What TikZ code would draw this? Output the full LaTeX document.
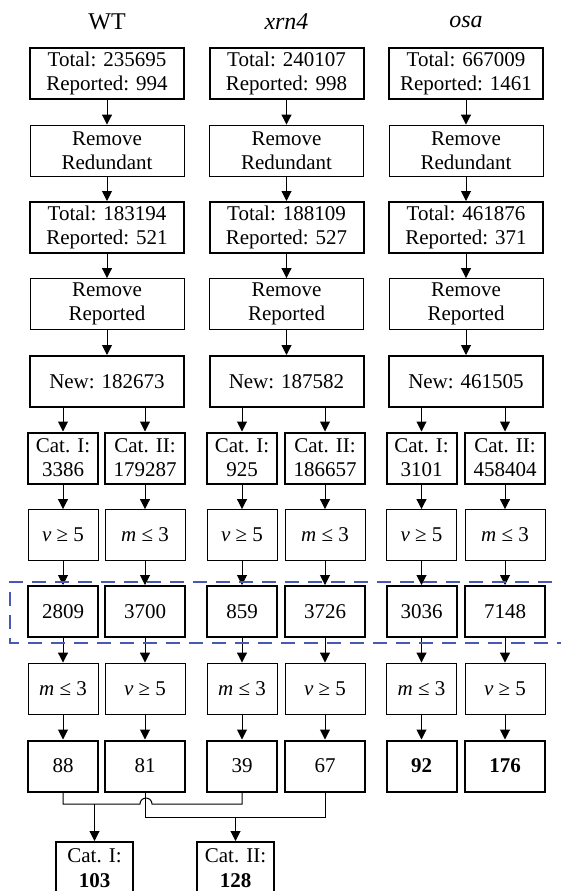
\documentclass[tikz,border=0pt]{standalone}
\usepackage{fontspec}
\setmainfont{Liberation Serif}
\usetikzlibrary{arrows.meta}
\definecolor{dashblue}{RGB}{70,90,180}
\begin{document}
\begin{tikzpicture}[x=1pt,y=1pt,
  basebox/.style={draw, minimum height=51pt, inner sep=0pt, align=center,
    font=\fontsize{21}{24}\selectfont},
  thinbox/.style={basebox, line width=0.9pt},
  thickbox/.style={basebox, line width=2pt},
  wide/.style={minimum width=154pt},
  lbox/.style={minimum width=70pt},
  rbox/.style={minimum width=80pt},
  finalbox/.style={thickbox, minimum width=77pt, minimum height=52pt,
    font=\fontsize{21}{25}\selectfont},
  title/.style={font=\fontsize{24}{28}\selectfont, inner sep=0pt},
  arr/.style={-{Triangle[length=10pt,width=10pt]}, line width=1pt},
  conn/.style={line width=1pt}]
\useasboundingbox (0,0) rectangle (561,-891);

% titles
\node[title] (tA) at (107,-22) {WT};
\node[title] (tB) at (286.5,-22) {\itshape xrn4};
\node[title] (tC) at (466,-22) {\itshape osa};

% ---------- WT ----------
\node[thickbox,wide] (aA) at (107,-73.5) {Total: 235695\\Reported: 994};
\node[thinbox,wide]  (bA) at (107,-150.5) {Remove\\Redundant};
\node[thickbox,wide] (cA) at (107,-227.5) {Total: 183194\\Reported: 521};
\node[thinbox,wide]  (dA) at (107,-304) {Remove\\Reported};
\node[thickbox,wide] (eA) at (107,-381.5) {New: 182673};
\node[thickbox,lbox] (fAL) at (63,-458) {Cat. I:\\3386};
\node[thickbox,rbox] (fAR) at (145,-458) {Cat. II:\\179287};
\node[thinbox,lbox]  (gAL) at (63,-535) {{\itshape v} ≥ 5};
\node[thinbox,rbox]  (gAR) at (145,-535) {{\itshape m} ≤ 3};
\node[thickbox,lbox] (hAL) at (63,-611.5) {2809};
\node[thickbox,rbox] (hAR) at (145,-611.5) {3700};
\node[thinbox,lbox]  (iAL) at (63,-688.5) {{\itshape m} ≤ 3};
\node[thinbox,rbox]  (iAR) at (145,-688.5) {{\itshape v} ≥ 5};
\node[thickbox,lbox] (jAL) at (63,-766) {88};
\node[thickbox,rbox] (jAR) at (145,-766) {81};

% ---------- xrn4 ----------
\node[thickbox,wide] (aB) at (286.5,-73.5) {Total: 240107\\Reported: 998};
\node[thinbox,wide]  (bB) at (286.5,-150.5) {Remove\\Redundant};
\node[thickbox,wide] (cB) at (286.5,-227.5) {Total: 188109\\Reported: 527};
\node[thinbox,wide]  (dB) at (286.5,-304) {Remove\\Reported};
\node[thickbox,wide] (eB) at (286.5,-381.5) {New: 187582};
\node[thickbox,lbox] (fBL) at (242,-458) {Cat. I:\\925};
\node[thickbox,rbox] (fBR) at (325,-458) {Cat. II:\\186657};
\node[thinbox,lbox]  (gBL) at (242,-535) {{\itshape v} ≥ 5};
\node[thinbox,rbox]  (gBR) at (325,-535) {{\itshape m} ≤ 3};
\node[thickbox,lbox] (hBL) at (242,-611.5) {859};
\node[thickbox,rbox] (hBR) at (325,-611.5) {3726};
\node[thinbox,lbox]  (iBL) at (242,-688.5) {{\itshape m} ≤ 3};
\node[thinbox,rbox]  (iBR) at (325,-688.5) {{\itshape v} ≥ 5};
\node[thickbox,lbox] (jBL) at (242,-766) {39};
\node[thickbox,rbox] (jBR) at (325,-766) {67};

% ---------- osa ----------
\node[thickbox,wide] (aC) at (466,-73.5) {Total: 667009\\Reported: 1461};
\node[thinbox,wide]  (bC) at (466,-150.5) {Remove\\Redundant};
\node[thickbox,wide] (cC) at (466,-227.5) {Total: 461876\\Reported: 371};
\node[thinbox,wide]  (dC) at (466,-304) {Remove\\Reported};
\node[thickbox,wide] (eC) at (466,-381.5) {New: 461505};
\node[thickbox,lbox] (fCL) at (421.5,-458) {Cat. I:\\3101};
\node[thickbox,rbox] (fCR) at (505,-458) {Cat. II:\\458404};
\node[thinbox,lbox]  (gCL) at (421.5,-535) {{\itshape v} ≥ 5};
\node[thinbox,rbox]  (gCR) at (505,-535) {{\itshape m} ≤ 3};
\node[thickbox,lbox] (hCL) at (421.5,-611.5) {3036};
\node[thickbox,rbox] (hCR) at (505,-611.5) {7148};
\node[thinbox,lbox]  (iCL) at (421.5,-688.5) {{\itshape m} ≤ 3};
\node[thinbox,rbox]  (iCR) at (505,-688.5) {{\itshape v} ≥ 5};
\node[thickbox,lbox] (jCL) at (421.5,-766) {\textbf{92}};
\node[thickbox,rbox] (jCR) at (505,-766) {\textbf{176}};

% final boxes
\node[finalbox] (kI) at (94.5,-868) {Cat. I:\\\textbf{103}};
\node[finalbox] (kII) at (235.5,-868) {Cat. II:\\\textbf{128}};

% arrows in each column
\foreach \c in {A,B,C}{
  \draw[arr] (a\c) -- (b\c);
  \draw[arr] (b\c) -- (c\c);
  \draw[arr] (c\c) -- (d\c);
  \draw[arr] (d\c) -- (e\c);
  \draw[arr] (e\c.south -| f\c L.north) -- (f\c L.north);
  \draw[arr] (e\c.south -| f\c R.north) -- (f\c R.north);
  \foreach \s in {L,R}{
    \draw[arr] (f\c\s) -- (g\c\s);
    \draw[arr] (g\c\s) -- (h\c\s);
    \draw[arr] (h\c\s) -- (i\c\s);
    \draw[arr] (i\c\s) -- (j\c\s);
  }
}

% dashed highlight
\draw[dashblue, line width=1.3pt, dash pattern=on 14pt off 9pt]
  (575,-582) -- (10,-582) -- (10,-643) -- (575,-643);

% merging connectors
\coordinate (m1) at (94.5,-804);
\coordinate (m2) at (235.5,-817);
\draw[conn] (jAL.south) |- (140,-804) arc[start angle=180,end angle=0,radius=6pt] -| (jBL.south);
\draw[conn] (jAR.south) -- (jAR.south |- m2) -| (jBR.south);
\draw[arr] (m1) -- (kI);
\draw[arr] (m2) -- (kII);
\end{tikzpicture}
\end{document}
